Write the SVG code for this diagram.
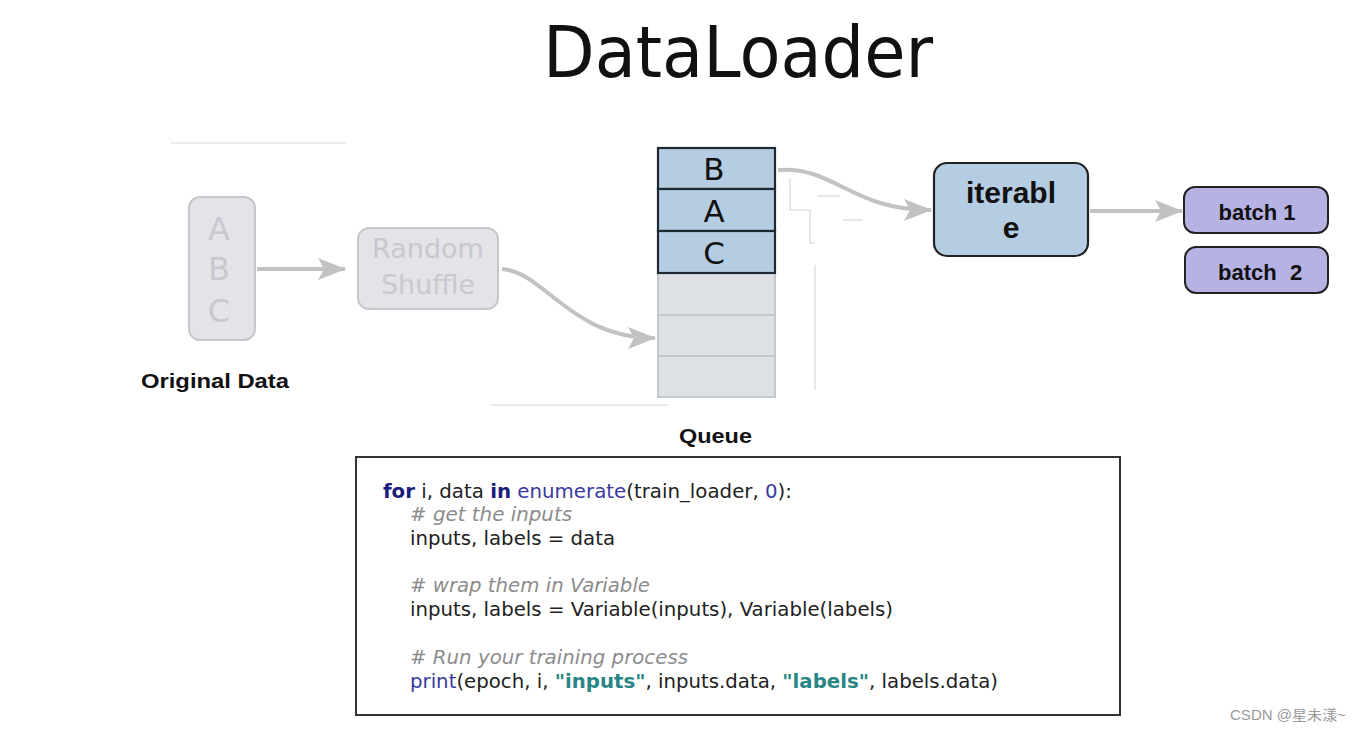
<svg xmlns="http://www.w3.org/2000/svg" width="1361" height="731" viewBox="0 0 1361 731">
<style>
.faint{stroke:#d8d8d8;stroke-width:1.2;fill:none}
.gbox{fill:#e3e3e8;stroke:#c6c6cc;stroke-width:2}
.gtxt{font-family:"DejaVu Sans",sans-serif;fill:#c8c8d0;text-anchor:middle}
.qb{fill:#b5cde3;stroke:#1e2a33;stroke-width:2.2}
.qg{fill:#dde1e5;stroke:#c4c8cc;stroke-width:2}
.qt{font-family:"DejaVu Sans",sans-serif;font-size:31px;fill:#111;text-anchor:middle}
.lbl{font-family:"Liberation Sans",Arial,sans-serif;font-weight:bold;fill:#111}
.conn{stroke:#c2c2c2;stroke-width:4;fill:none;marker-end:url(#ah)}
.code{font-family:"DejaVu Sans",sans-serif;font-size:20px;fill:#222}
.kw{fill:#1c1c7c;font-weight:bold}
.fn{fill:#3a3aa0}
.cm{fill:#8c8c8c;font-style:italic}
.st{fill:#2a8585;font-weight:bold}
</style>
<defs>
<marker id="ah" markerUnits="userSpaceOnUse" markerWidth="30" markerHeight="24" refX="27" refY="12" orient="auto">
<path d="M0,1 L28,12 L0,23 L6,12 z" fill="#c2c2c2"/>
</marker>
</defs>
<rect width="1361" height="731" fill="#fff"/>
<text x="543" y="77" font-family="DejaVu Sans,sans-serif" font-size="71" fill="#111" textLength="390" lengthAdjust="spacingAndGlyphs">DataLoader</text>
<g id="artifacts">
<line class="faint" x1="171" y1="143" x2="346" y2="143"/>
<line class="faint" x1="490" y1="405" x2="668" y2="405"/>
<line class="faint" x1="815" y1="265" x2="815" y2="390"/>
<path class="faint" d="M790,178 V210 H810 V243 H815"/>
<line class="faint" x1="817" y1="196" x2="840" y2="196"/>
<line class="faint" x1="843" y1="220" x2="863" y2="220"/>
</g>
<g id="original-data">
<rect class="gbox" x="189" y="197" width="66" height="143" rx="11"/>
<text class="gtxt" x="219" y="240" font-size="32">A</text>
<text class="gtxt" x="219" y="280" font-size="32">B</text>
<text class="gtxt" x="219" y="322" font-size="32">C</text>
<text class="lbl" x="141" y="388" font-size="21" textLength="148" lengthAdjust="spacingAndGlyphs">Original Data</text>
</g>
<g id="random-shuffle">
<rect class="gbox" x="358" y="228" width="140" height="81" rx="11"/>
<text class="gtxt" x="428" y="258" font-size="27">Random</text>
<text class="gtxt" x="428" y="294" font-size="27">Shuffle</text>
</g>
<g id="queue">
<rect class="qg" x="658" y="273" width="117" height="42"/>
<rect class="qg" x="658" y="315" width="117" height="41"/>
<rect class="qg" x="658" y="356" width="117" height="41"/>
<rect class="qb" x="658" y="148" width="117" height="41"/>
<rect class="qb" x="658" y="189" width="117" height="42"/>
<rect class="qb" x="658" y="231" width="117" height="42"/>
<text class="qt" x="714" y="180">B</text>
<text class="qt" x="714" y="222">A</text>
<text class="qt" x="714" y="264">C</text>
<text class="lbl" x="679" y="443" font-size="21" textLength="73" lengthAdjust="spacingAndGlyphs">Queue</text>
</g>
<g id="iterable">
<rect x="934" y="163" width="154" height="93" rx="13" fill="#b5cde3" stroke="#222" stroke-width="2.2"/>
<text class="lbl" x="1011" y="203" font-size="30" text-anchor="middle">iterabl</text>
<text class="lbl" x="1011" y="238" font-size="30" text-anchor="middle">e</text>
</g>
<g id="batch1">
<rect x="1184" y="187" width="144" height="46" rx="11" fill="#b6b2e3" stroke="#222" stroke-width="2"/>
<text class="lbl" x="1257" y="220" font-size="22" text-anchor="middle">batch 1</text>
</g>
<g id="batch2">
<rect x="1185" y="247" width="143" height="46" rx="11" fill="#b6b2e3" stroke="#222" stroke-width="2"/>
<text class="lbl" x="1218" y="280" font-size="22">batch <tspan x="1290">2</tspan></text>
</g>
<g id="connectors">
<line class="conn" x1="257" y1="269" x2="345" y2="269"/>
<path class="conn" d="M502,269 C545,272 570,338 655,338"/>
<path class="conn" d="M778,170 C835,166 850,210 931,210"/>
<line class="conn" x1="1090" y1="211" x2="1182" y2="211"/>
</g>
<g id="code">
<rect x="356" y="457" width="764" height="258" fill="#fff" stroke="#333" stroke-width="2"/>
<text class="code" x="383" y="498" textLength="409" lengthAdjust="spacingAndGlyphs"><tspan class="kw">for</tspan> i, data <tspan class="kw">in</tspan> <tspan class="fn">enumerate</tspan>(train_loader, <tspan class="fn">0</tspan>):</text>
<text class="code cm" x="410" y="521" textLength="162" lengthAdjust="spacingAndGlyphs"># get the inputs</text>
<text class="code" x="410" y="545" textLength="205" lengthAdjust="spacingAndGlyphs">inputs, labels = data</text>
<text class="code cm" x="410" y="592" textLength="240" lengthAdjust="spacingAndGlyphs"># wrap them in Variable</text>
<text class="code" x="410" y="616" textLength="483" lengthAdjust="spacingAndGlyphs">inputs, labels = Variable(inputs), Variable(labels)</text>
<text class="code cm" x="410" y="664" textLength="278" lengthAdjust="spacingAndGlyphs"># Run your training process</text>
<text class="code" x="410" y="688" textLength="588" lengthAdjust="spacingAndGlyphs"><tspan class="fn">print</tspan>(epoch, i, <tspan class="st">"inputs"</tspan>, inputs.data, <tspan class="st">"labels"</tspan>, labels.data)</text>
</g>
<text x="1230" y="720" font-family="Liberation Sans,'Noto Sans CJK SC',sans-serif" font-size="14" fill="#9a9a9a" textLength="116" lengthAdjust="spacingAndGlyphs">CSDN @星未漾~</text>
</svg>
